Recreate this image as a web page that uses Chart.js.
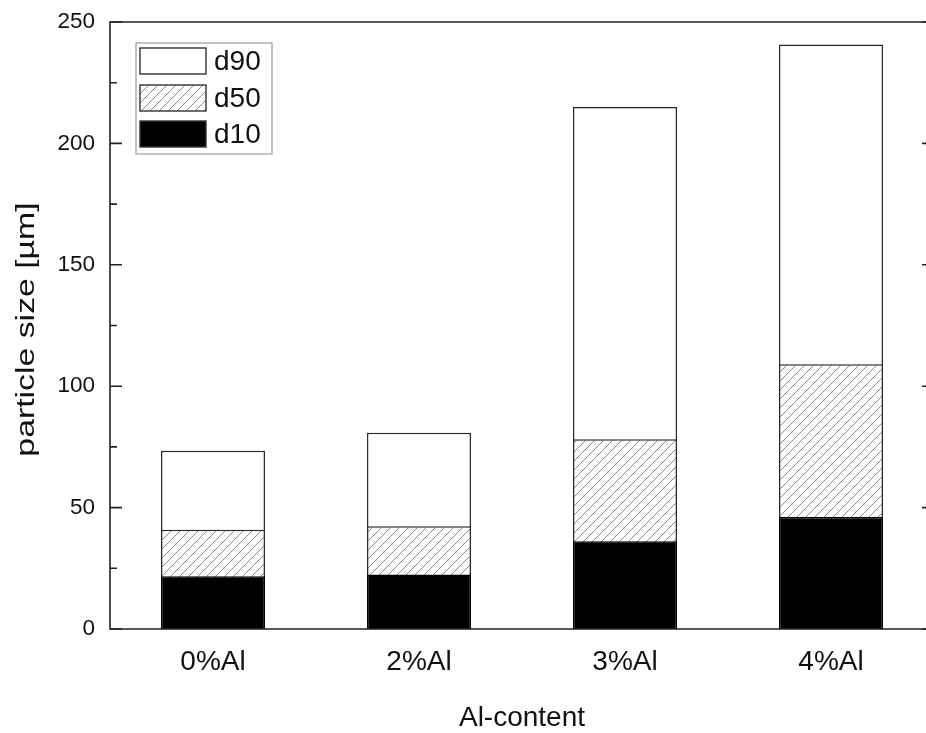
<!DOCTYPE html>
<html>
<head>
<meta charset="utf-8">
<script src="https://cdn.jsdelivr.net/npm/chart.js@4.4.1/dist/chart.umd.min.js"></script>
<style>
  html, body { margin: 0; padding: 0; overflow: hidden; background: #fff; }
  #wrap { width: 940px; height: 733px; }
</style>
</head>
<body>
<div id="wrap"><canvas id="chart"></canvas></div>
<script>
// --- DATA ---
const categories = ['0%Al', '2%Al', '3%Al', '4%Al'];
const d10 = [21.7, 22.4, 36.1, 46.1];
const d50 = [40.9, 42.3, 78.2, 109.0];
const d90 = [73.4, 80.8, 215.0, 240.7];
const yTicks = [0, 50, 100, 150, 200, 250];
const yTitle = 'particle size [µm]';

const FONT = "'Liberation Sans', Arial, sans-serif";

// hatch pattern for d50
function makeHatch() {
    const s = 9;
    const c = document.createElement('canvas');
    c.width = s; c.height = s;
    const g = c.getContext('2d');
    g.fillStyle = '#fff';
    g.fillRect(0, 0, s, s);
    g.strokeStyle = '#7a7a7a';
    g.lineWidth = 0.9;
    g.beginPath();
    g.moveTo(0, s); g.lineTo(s, 0);
    g.moveTo(-1, 1); g.lineTo(1, -1);
    g.moveTo(s - 1, s + 1); g.lineTo(s + 1, s - 1);
    g.stroke();
    return g.createPattern(c, 'repeat');
}
const hatch = makeHatch();

// frame, inward ticks, y title and boxed legend
const framePlugin = {
    id: 'frame',
    afterDraw(chart) {
        const ctx = chart.ctx;
        const a = chart.chartArea;
        const y = chart.scales.y;
        ctx.save();
        ctx.strokeStyle = '#222';
        ctx.lineWidth = 1.6;
        ctx.beginPath();
        ctx.moveTo(a.right, a.top); ctx.lineTo(a.left, a.top);
        ctx.lineTo(a.left, a.bottom); ctx.lineTo(a.right, a.bottom);
        ctx.stroke();

        for (let v = 0; v <= 250; v += 25) {
            const py = y.getPixelForValue(v);
            const len = v % 50 === 0 ? 12 : 7;
            ctx.beginPath();
            ctx.moveTo(a.left, py); ctx.lineTo(a.left + len, py);
            ctx.moveTo(a.right, py); ctx.lineTo(a.right - len, py);
            ctx.stroke();
        }

        // y title (slightly elongated like the original)
        ctx.translate(27, (a.top + a.bottom) / 2 + 4);
        ctx.rotate(-Math.PI / 2);
        ctx.scale(1.3, 1);
        ctx.font = '26px ' + FONT;
        ctx.fillStyle = '#111';
        ctx.textAlign = 'center';
        ctx.textBaseline = 'middle';
        ctx.fillText(yTitle, 0, 0);
        ctx.setTransform(1, 0, 0, 1, 0, 0);

        // legend
        const lx = 136, ly = 43, lw = 136, lh = 111;
        ctx.fillStyle = '#fff';
        ctx.fillRect(lx, ly, lw, lh);
        ctx.strokeStyle = '#888';
        ctx.lineWidth = 1;
        ctx.strokeRect(lx, ly, lw, lh);

        const rows = [chart.data.datasets[2], chart.data.datasets[1], chart.data.datasets[0]];
        const rowTop = [48, 85, 121];
        ctx.font = '28px ' + FONT;
        ctx.textAlign = 'left';
        ctx.textBaseline = 'middle';
        rows.forEach((ds, i) => {
            ctx.fillStyle = ds.backgroundColor;
            ctx.fillRect(140, rowTop[i], 66, 26);
            ctx.strokeStyle = '#333';
            ctx.lineWidth = 1.4;
            ctx.strokeRect(140, rowTop[i], 66, 26);
            ctx.fillStyle = '#111';
            ctx.fillText(ds.label, 214, rowTop[i] + 14);
        });
        ctx.restore();
    }
};

const barCommon = {
    grouped: false,
    categoryPercentage: 1,
    barPercentage: 0.505,
    borderColor: '#2a2a2a',
    borderWidth: 1.5,
    borderSkipped: 'start'
};

new Chart(document.getElementById('chart'), {
    type: 'bar',
    data: {
        labels: categories,
        datasets: [
            Object.assign({ label: 'd10', data: d10, backgroundColor: '#000' }, barCommon, { borderColor: '#000' }),
            Object.assign({ label: 'd50', data: d50, backgroundColor: hatch }, barCommon),
            Object.assign({ label: 'd90', data: d90, backgroundColor: '#fff' }, barCommon)
        ]
    },
    options: {
        responsive: true,
        maintainAspectRatio: false,
        animation: false,
        layout: { padding: { top: 22, right: 6, left: 0, bottom: 0 } },
        plugins: {
            legend: { display: false },
            tooltip: { enabled: false }
        },
        scales: {
            x: {
                grid: { display: false },
                border: { display: false },
                ticks: { color: '#111', padding: 8, font: { family: FONT, size: 28 } },
                title: {
                    display: true,
                    text: 'Al-content',
                    color: '#111',
                    font: { family: FONT, size: 28, lineHeight: 1 },
                    padding: { top: 0, bottom: 1 }
                },
                afterFit(s) { s.height = 104; }
            },
            y: {
                min: 0,
                max: 250,
                afterBuildTicks(s) { s.ticks = yTicks.map(v => ({ value: v })); },
                grid: { display: false },
                border: { display: false },
                ticks: { color: '#111', padding: 7, font: { family: FONT, size: 22.5 } },
                afterFit(s) { s.width = 110; }
            }
        }
    },
    plugins: [framePlugin]
});
</script>
</body>
</html>
